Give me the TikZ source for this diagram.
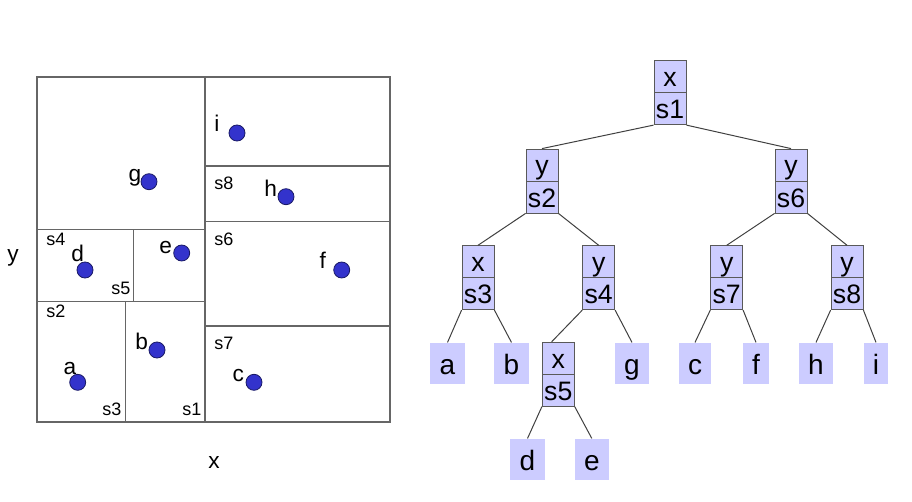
\documentclass[tikz,border=0pt]{standalone}
\usepackage{fontspec}
\setmainfont{Liberation Sans}
\definecolor{lav}{HTML}{CCCCFF}
\definecolor{dotblue}{HTML}{3333CC}
\definecolor{dotedge}{HTML}{1A1A66}
\begin{document}
\begin{tikzpicture}[x=0.75pt,y=-0.75pt,
  frame/.style={draw=black!60, line width=0.9pt},
  pt/.style={circle, fill=dotblue, draw=dotedge, line width=0.6pt, minimum size=12pt, inner sep=0pt},
  lbl/.style={font=\fontsize{17}{17}\selectfont, anchor=base, inner sep=0pt},
  slbl/.style={font=\fontsize{13.5}{13.5}\selectfont, anchor=base, inner sep=0pt},
  half/.style={draw=black!65, fill=lav, line width=0.6pt, minimum width=24pt, minimum height=24pt, inner sep=0pt,
    font=\fontsize{20}{20}\selectfont, text height=17pt, text depth=2pt},
  leaf/.style={fill=lav, minimum height=31.2pt, inner xsep=7pt, inner ysep=0pt,
    font=\fontsize{21}{21}\selectfont, text height=19pt, text depth=2.5pt},
  edge/.style={draw=black!75, line width=0.75pt}]
\useasboundingbox (0,0) rectangle (912,502);
% ---------- left panel ----------
\draw[frame] (37,77) rectangle (390,422);
\draw[frame] (205,77) -- (205,422);
\draw[frame] (205,166) -- (390,166);
\draw[frame] (205,221.7) -- (390,221.7);
\draw[frame] (205,326) -- (390,326);
\draw[frame] (37,229.3) -- (205,229.3);
\draw[frame] (37,301.7) -- (205,301.7);
\draw[frame] (133.3,229.3) -- (133.3,301.7);
\draw[frame] (125.7,301.7) -- (125.7,422);
% points
\node[pt] (pi) at (237,133) {};
\node[pt] (pg) at (149,181.7) {};
\node[pt] (ph) at (286,196.7) {};
\node[pt] (pd) at (85,270) {};
\node[pt] (pe) at (181.7,253) {};
\node[pt] (pf) at (341.7,270) {};
\node[pt] (pb) at (157,350) {};
\node[pt] (pa) at (77.7,382.3) {};
\node[pt] (pc) at (254,382.3) {};
% point labels
\node[lbl] (li) at (217,131.7) {i};
\node[lbl] (lg) at (135,181.3) {g};
\node[lbl] (lh) at (270.7,196.7) {h};
\node[lbl] (ld) at (77.7,261.7) {d};
\node[lbl] (le) at (165.7,253.3) {e};
\node[lbl] (lf) at (322.7,268.3) {f};
\node[lbl] (lb) at (141.7,349.3) {b};
\node[lbl] (la) at (70,374) {a};
\node[lbl] (lc) at (238.3,381.7) {c};
% region labels
\node[slbl] (r8) at (224,190) {s8};
\node[slbl] (r4) at (56,245) {s4};
\node[slbl] (r6) at (224,245) {s6};
\node[slbl] (r5) at (121,294) {s5};
\node[slbl] (r2) at (56,317.3) {s2};
\node[slbl] (r7) at (224,349.3) {s7};
\node[slbl] (r3) at (112,415) {s3};
\node[slbl] (r1) at (192,415) {s1};
% axes
\node[lbl] (ay) at (13,261.7) {y};
\node[lbl] (ax) at (214,468.3) {x};
% ---------- tree ----------
\node[half] (t1) at (670,76.7) {x};
\node[half] (n1) at (670,108.7) {s1};
\node[half] (t2) at (542,165) {y};
\node[half] (n2) at (542,197) {s2};
\node[half] (t6) at (791,165) {y};
\node[half] (n6) at (791,197) {s6};
\node[half] (t3) at (478,261.7) {x};
\node[half] (n3) at (478,293.7) {s3};
\node[half] (t4) at (598.7,261.7) {y};
\node[half] (n4) at (598.7,293.7) {s4};
\node[half] (t7) at (726.7,261.7) {y};
\node[half] (n7) at (726.7,293.7) {s7};
\node[half] (t8) at (847,261.7) {y};
\node[half] (n8) at (847,293.7) {s8};
\node[half] (t5) at (558.3,358.2) {x};
\node[half] (n5) at (558.3,390.2) {s5};
\node[leaf] (a) at (447.5,363.5) {a};
\node[leaf] (b) at (511.5,363.5) {b};
\node[leaf] (g) at (632,363.5) {g};
\node[leaf] (c) at (695,363.5) {c};
\node[leaf] (f) at (756,363.5) {f};
\node[leaf] (h) at (816,363.5) {h};
\node[leaf] (i) at (876,363.5) {i};
\node[leaf] (d) at (527.5,459.5) {d};
\node[leaf] (e) at (591.8,459.5) {e};
% edges
\draw[edge] (n1.south west) -- (t2.north);
\draw[edge] (n1.south east) -- (t6.north);
\draw[edge] (n2.south west) -- (t3.north);
\draw[edge] (n2.south east) -- (t4.north);
\draw[edge] (n6.south west) -- (t7.north);
\draw[edge] (n6.south east) -- (t8.north);
\draw[edge] (n3.south west) -- (a.north);
\draw[edge] (n3.south east) -- (b.north);
\draw[edge] (n4.south west) -- ([xshift=-5pt]t5.north);
\draw[edge] (n4.south east) -- (g.north);
\draw[edge] (n7.south west) -- (c.north);
\draw[edge] (n7.south east) -- (f.north);
\draw[edge] (n8.south west) -- (h.north);
\draw[edge] (n8.south east) -- (i.north);
\draw[edge] (n5.south west) -- (d.north);
\draw[edge] (n5.south east) -- (e.north);
\end{tikzpicture}
\end{document}
